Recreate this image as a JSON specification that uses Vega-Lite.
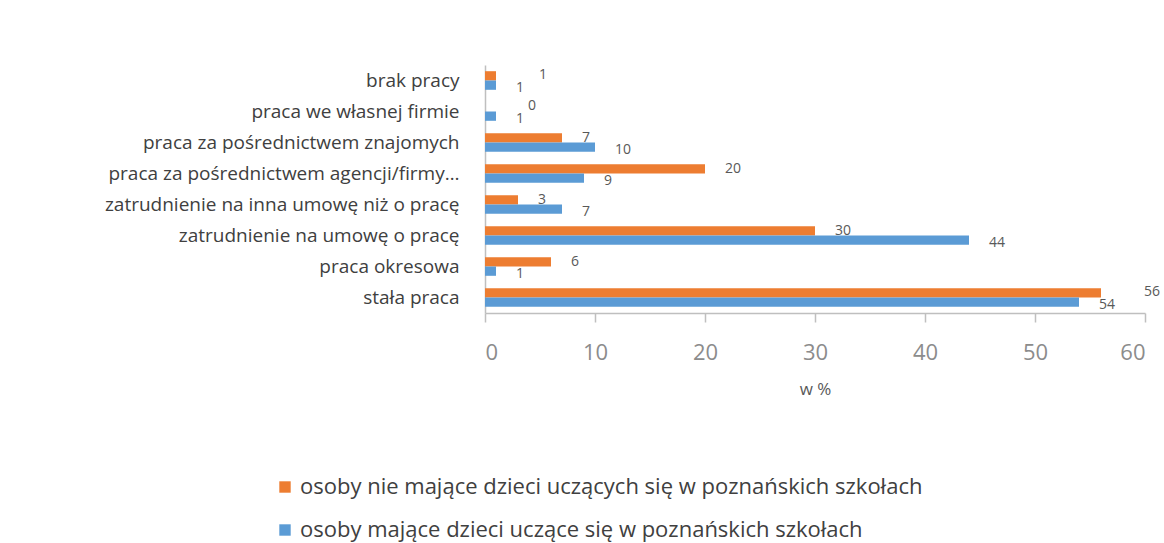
{
  "$schema": "https://vega.github.io/schema/vega-lite/v6.json",
  "autosize": {"type": "none"},
  "width": 660,
  "height": 248,
  "padding": {"left": 485, "top": 65, "right": 19, "bottom": 230},
  "background": "white",
  "config": {"view": {"stroke": null}, "font": "Open Sans"},
  "data": {
    "values": [
      {"kategoria": "brak pracy", "grupa": "osoby nie mające dzieci uczących się w poznańskich szkołach", "wartosc": 1},
      {"kategoria": "brak pracy", "grupa": "osoby mające dzieci uczące się w poznańskich szkołach", "wartosc": 1},
      {"kategoria": "praca we własnej firmie", "grupa": "osoby nie mające dzieci uczących się w poznańskich szkołach", "wartosc": 0},
      {"kategoria": "praca we własnej firmie", "grupa": "osoby mające dzieci uczące się w poznańskich szkołach", "wartosc": 1},
      {"kategoria": "praca za pośrednictwem znajomych", "grupa": "osoby nie mające dzieci uczących się w poznańskich szkołach", "wartosc": 7},
      {"kategoria": "praca za pośrednictwem znajomych", "grupa": "osoby mające dzieci uczące się w poznańskich szkołach", "wartosc": 10},
      {"kategoria": "praca za pośrednictwem agencji/firmy…", "grupa": "osoby nie mające dzieci uczących się w poznańskich szkołach", "wartosc": 20},
      {"kategoria": "praca za pośrednictwem agencji/firmy…", "grupa": "osoby mające dzieci uczące się w poznańskich szkołach", "wartosc": 9},
      {"kategoria": "zatrudnienie na inna umowę niż o pracę", "grupa": "osoby nie mające dzieci uczących się w poznańskich szkołach", "wartosc": 3},
      {"kategoria": "zatrudnienie na inna umowę niż o pracę", "grupa": "osoby mające dzieci uczące się w poznańskich szkołach", "wartosc": 7},
      {"kategoria": "zatrudnienie na umowę o pracę", "grupa": "osoby nie mające dzieci uczących się w poznańskich szkołach", "wartosc": 30},
      {"kategoria": "zatrudnienie na umowę o pracę", "grupa": "osoby mające dzieci uczące się w poznańskich szkołach", "wartosc": 44},
      {"kategoria": "praca okresowa", "grupa": "osoby nie mające dzieci uczących się w poznańskich szkołach", "wartosc": 6},
      {"kategoria": "praca okresowa", "grupa": "osoby mające dzieci uczące się w poznańskich szkołach", "wartosc": 1},
      {"kategoria": "stała praca", "grupa": "osoby nie mające dzieci uczących się w poznańskich szkołach", "wartosc": 56},
      {"kategoria": "stała praca", "grupa": "osoby mające dzieci uczące się w poznańskich szkołach", "wartosc": 54}
    ]
  },
  "encoding": {
    "y": {
      "field": "kategoria",
      "type": "nominal",
      "sort": ["brak pracy", "praca we własnej firmie", "praca za pośrednictwem znajomych", "praca za pośrednictwem agencji/firmy…", "zatrudnienie na inna umowę niż o pracę", "zatrudnienie na umowę o pracę", "praca okresowa", "stała praca"],
      "scale": {"paddingInner": 0.4, "paddingOuter": 0.2},
      "axis": {
        "title": null,
        "ticks": false,
        "domain": true,
        "domainColor": "#bfbfbf",
        "domainWidth": 1.5,
        "labelFont": "Open Sans",
        "labelFontSize": 19,
        "labelColor": "#404040",
        "labelPadding": 26,
        "labelLimit": 0
      }
    },
    "yOffset": {
      "field": "grupa",
      "type": "nominal",
      "sort": ["osoby nie mające dzieci uczących się w poznańskich szkołach", "osoby mające dzieci uczące się w poznańskich szkołach"]
    },
    "x": {
      "field": "wartosc",
      "type": "quantitative",
      "scale": {"domain": [0, 60], "nice": false},
      "axis": {
        "title": "w %",
        "values": [0, 10, 20, 30, 40, 50, 60],
        "grid": false,
        "domainColor": "#bfbfbf",
        "domainWidth": 1.5,
        "tickColor": "#bfbfbf",
        "tickWidth": 1.5,
        "tickSize": 9,
        "labelFont": "Open Sans",
        "labelFontSize": 22,
        "labelColor": "#8c8c8c",
        "labelPadding": 20,
        "titleFont": "Open Sans",
        "titleFontSize": 17,
        "titleFontWeight": "normal",
        "titleColor": "#595959",
        "titlePadding": 18
      }
    }
  },
  "layer": [
    {
      "mark": {"type": "bar"},
      "encoding": {
        "color": {
          "field": "grupa",
          "type": "nominal",
          "scale": {
            "domain": ["osoby nie mające dzieci uczących się w poznańskich szkołach", "osoby mające dzieci uczące się w poznańskich szkołach"],
            "range": ["#ED7D31", "#5B9BD5"]
          },
          "legend": {
            "title": null,
            "orient": "none",
            "legendX": -211,
            "legendY": 411,
            "direction": "vertical",
            "symbolType": "square",
            "symbolSize": 130,
            "symbolStrokeWidth": 0,
            "labelFont": "Open Sans",
            "labelFontSize": 22,
            "labelColor": "#404040",
            "labelLimit": 0,
            "labelOffset": 4,
            "rowPadding": 21
          }
        }
      }
    },
    {
      "transform": [
        {"filter": "datum.grupa === 'osoby mające dzieci uczące się w poznańskich szkołach'"}
      ],
      "mark": {"type": "text", "align": "left", "baseline": "middle", "dx": 20, "dy": 3, "fontSize": 14, "color": "#595959", "font": "Open Sans"},
      "encoding": {
        "text": {"field": "wartosc", "type": "quantitative"}
      }
    },
    {
      "transform": [
        {"filter": "datum.grupa === 'osoby nie mające dzieci uczących się w poznańskich szkołach' && datum.wartosc > 1 && datum.wartosc < 50"}
      ],
      "mark": {"type": "text", "align": "left", "baseline": "middle", "dx": 20, "dy": 0, "fontSize": 14, "color": "#595959", "font": "Open Sans"},
      "encoding": {
        "text": {"field": "wartosc", "type": "quantitative"}
      }
    },
    {
      "transform": [
        {"filter": "datum.grupa === 'osoby nie mające dzieci uczących się w poznańskich szkołach' && (datum.wartosc <= 1 || datum.wartosc >= 50)"}
      ],
      "mark": {"type": "text", "align": "left", "baseline": "middle", "dx": 43, "dy": -1, "fontSize": 14, "color": "#595959", "font": "Open Sans"},
      "encoding": {
        "text": {"field": "wartosc", "type": "quantitative"}
      }
    }
  ]
}
